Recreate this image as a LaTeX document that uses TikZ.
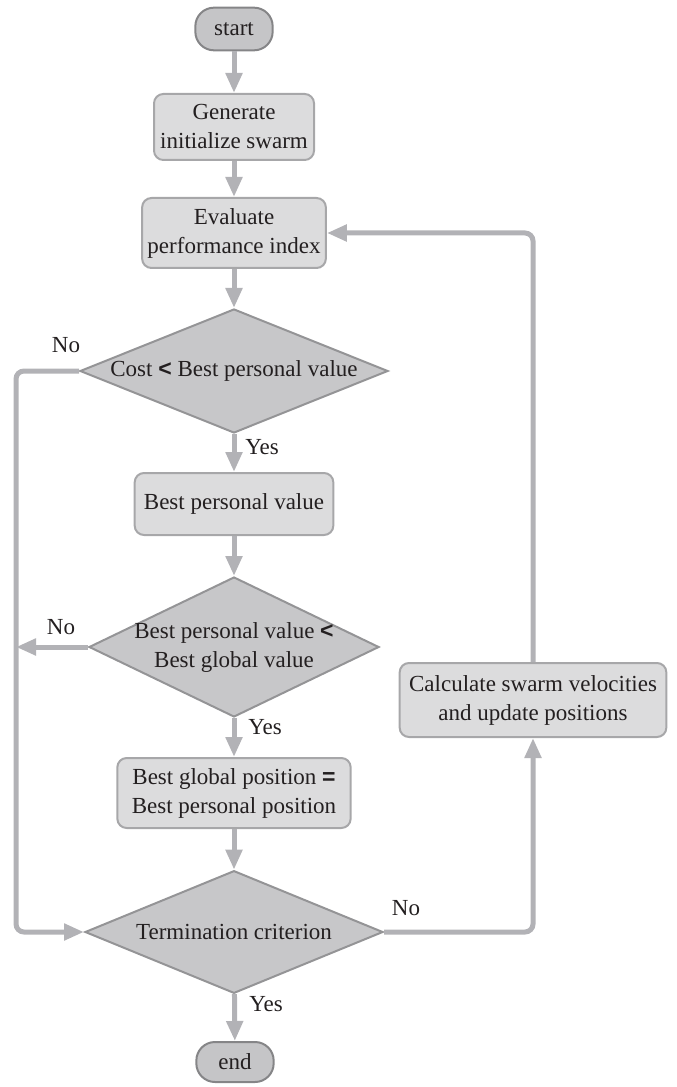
\documentclass[tikz,border=0pt]{standalone}
\usepackage{fontspec}
\setmainfont{Liberation Serif}
\setsansfont{Liberation Sans}
\usetikzlibrary{positioning,shapes.geometric,arrows.meta}

\definecolor{ink}{HTML}{231F20}
\definecolor{flowgray}{HTML}{B2B2B6}
\definecolor{procfill}{HTML}{DCDCDD}
\definecolor{procline}{HTML}{A7A7A9}
\definecolor{condfill}{HTML}{C7C7C9}
\definecolor{condline}{HTML}{949496}
\definecolor{termfill}{HTML}{C5C5C7}
\definecolor{termline}{HTML}{858587}

\begin{document}
\begin{tikzpicture}[x=0.75pt, y=-0.75pt,
    every node/.style={font=\fontsize{17.25}{21.75}\selectfont, text=ink},
    term/.style={rectangle, rounded corners=14pt, draw=termline, fill=termfill, line width=1.5pt,
        minimum width=58pt, minimum height=32pt, text centered},
    proc/.style={rectangle, rounded corners=7pt, draw=procline, fill=procfill, line width=1.5pt,
        align=center, inner xsep=4pt},
    cond/.style={diamond, draw=condline, fill=condfill, line width=1.5pt,
        align=center, aspect=2.4, inner sep=-5pt},
    flow/.style={draw=flowgray, line width=3.75pt, rounded corners=6pt,
        -{Triangle[length=15pt, width=12pt]}},
    lbl/.style={inner sep=0pt}
]
\useasboundingbox (0,0) rectangle (676,1087);

% main column
\node [term] (Start) at (234,29) {start};
\node [proc, minimum width=120pt, minimum height=49.5pt] (Init) at (234,127) {Generate\\initialize swarm};
\node [proc, minimum width=137pt, minimum height=52.5pt] (Eval) at (234,233) {Evaluate\\performance index};
\node [cond, minimum width=231pt, minimum height=93pt] (CostCmp) at (234,371)
    {Cost \textsf{\bfseries <} Best personal value};
\node [proc, minimum width=149pt, minimum height=46.5pt] (PBest) at (234,504) {Best personal value};
\node [cond, minimum width=217.5pt, minimum height=105pt] (GlobCmp) at (234,647)
    {Best personal value \textsf{\bfseries <}\\Best global value};
\node [proc, minimum width=175pt, minimum height=52.5pt] (GBest) at (234,793)
    {Best global position \textsf{\bfseries =}\\Best personal position};
\node [cond, minimum width=223.5pt, minimum height=92pt] (Stop) at (234,932) {Termination criterion};
\node [term, minimum height=30pt] (End) at (235,1062) {end};

% update box on the right
\node [proc, minimum width=200pt, minimum height=55.5pt] (Update) at (533,700)
    {Calculate swarm velocities\\and update positions};

\coordinate (Rail) at (16,0);

% straight flow
\draw [flow] (Start) -- (Init);
\draw [flow] (Init) -- (Eval);
\draw [flow] (Eval) -- (CostCmp);
\draw [flow] (CostCmp) -- (PBest);
\draw [flow] (PBest) -- (GlobCmp);
\draw [flow] (GlobCmp) -- (GBest);
\draw [flow] (GBest) -- (Stop);
\draw [flow] (Stop) -- (End);

% No branches
\draw [flow] (CostCmp.west) -- (CostCmp.west -| Rail) -- (Stop.west -| Rail) -- (Stop.west);
\draw [flow] (GlobCmp.west) -- (GlobCmp.west -| Rail);
\draw [flow] (Stop.east) -- (Stop.east -| Update.south) -- (Update.south);
\draw [flow] (Update.north) -- (Update.north |- Eval.east) -- (Eval.east);

% labels
\node [lbl] (No1) at (66,345) {No};
\node [lbl] (No2) at (61,627) {No};
\node [lbl] (No3) at (406,908) {No};
\node [lbl] (Yes1) at (262,447) {Yes};
\node [lbl] (Yes2) at (265,727) {Yes};
\node [lbl] (Yes3) at (266,1004) {Yes};

\end{tikzpicture}
\end{document}
